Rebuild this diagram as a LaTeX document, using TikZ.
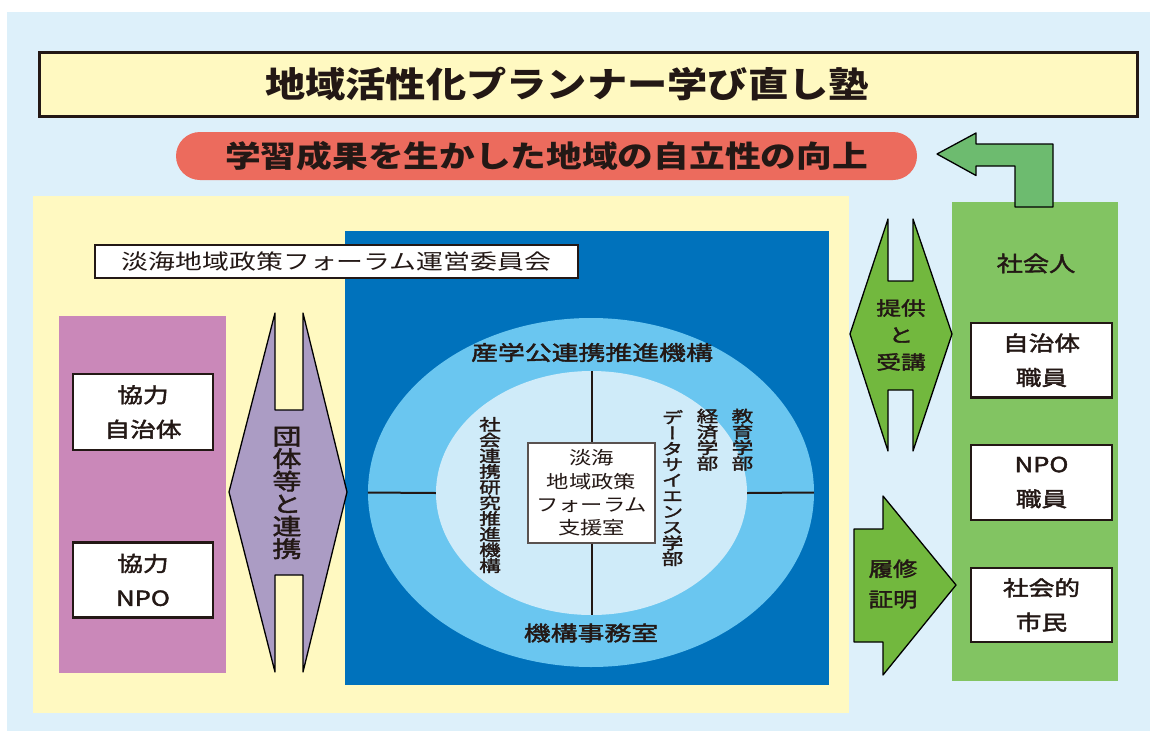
\documentclass[tikz,border=0pt]{standalone}
\usepackage{fontspec}
\newfontfamily\jp{Noto Sans CJK JP}
\usetikzlibrary{shapes.geometric}
\usepackage{tkz-euclide}
\definecolor{BgClr}{HTML}{DDF0FA}
\definecolor{CreamClr}{HTML}{FFF9C1}
\definecolor{PillClr}{HTML}{EC6B5D}
\definecolor{PinkClr}{HTML}{CA88B9}
\definecolor{BlueClr}{HTML}{0072BC}
\definecolor{RingClr}{HTML}{6AC6F0}
\definecolor{CoreClr}{HTML}{CFEBF9}
\definecolor{LilacClr}{HTML}{AB9CC4}
\definecolor{LeafClr}{HTML}{6DBB6F}
\definecolor{GrassClr}{HTML}{82C462}
\definecolor{LimeClr}{HTML}{72B83E}
\definecolor{InkClr}{HTML}{231815}
\newcommand\jpfont[3]{\jp\fontsize{#1}{#2}\selectfont\addfontfeature{FakeStretch=#3}\lineskiplimit=-30pt\lineskip=0pt}
\newcommand\jpmed[3]{\jpfont{#1}{#2}{#3}\addfontfeature{FakeBold=2}}

\begin{document}
\begin{tikzpicture}[x=1pt,y=-1pt,
  headtxt/.style={text=InkClr,inner sep=0pt,font={\bfseries\jpfont{35}{40}{1.15}}},
  card/.style={draw=InkClr,line width=2.2pt,fill=white,inner sep=0pt,align=center,text=InkClr,font={\jpmed{20.7}{34.5}{1.24}}},
  ringtxt/.style={text=InkClr,inner sep=0pt,font={\jpmed{20.5}{20.5}{1.31}}},
  vsmall/.style={text=InkClr,inner sep=0pt,align=center,font={\jpmed{16}{15.7}{1.35}}},
  midtxt/.style={text=InkClr,inner sep=0pt,align=center,font={\jpmed{20}{27}{1.26}}},
  spoke/.style={draw=InkClr,line width=2pt}]
\tkzSetUpLine[line width=1.3pt,color=black]

\useasboundingbox (0,0) rectangle (1150,731);
\fill[white] (0,0) rectangle (1150,731);
\fill[BgClr] (7,12) rectangle (1150,731);

\node[draw=InkClr,line width=3pt,fill=CreamClr,minimum width=1098pt,minimum height=64pt,inner sep=0pt] (banner) at (588,84) {};
\node[headtxt] (bannertxt) at (567,84) {地域活性化プランナー学び直し塾};

\node[fill=PillClr,rounded corners=24pt,minimum width=741pt,minimum height=48pt,inner sep=0pt,text=InkClr,font={\bfseries\jpfont{30}{30}{1.19}}] (goal) at (546.5,156) {学習成果を生かした地域の自立性の向上};

\fill[CreamClr] (33,196) rectangle (849,712.7);
\fill[BlueClr] (345,231) rectangle (828.7,684.7);

\node[ellipse,fill=RingClr,minimum width=446pt,minimum height=349pt,inner sep=0pt] (ring) at (591,492.5) {};
\node[ellipse,fill=CoreClr,minimum width=311pt,minimum height=244pt,inner sep=0pt] (core) at (591.5,493) {};
\node[draw=InkClr!75,line width=1.2pt,fill=white,minimum width=127pt,minimum height=100pt,inner sep=0pt,align=center,text=InkClr,font={\jpfont{18}{23.3}{1.24}}] (office) at (591.5,493) {淡海\\地域政策\\フォーラム\\支援室};

\draw[spoke] (ring.west) -- (core.west);
\draw[spoke] (core.east) -- (ring.east);
\draw[spoke] (core.north) -- (office.north);
\draw[spoke] (office.south) -- (core.south);

\node[ringtxt] (promo) at (592,352.5) {産学公連携推進機構};
\node[ringtxt] (bureau) at (591,633) {機構事務室};

\node[vsmall] (socres) at (490,495) {社\\会\\連\\携\\研\\究\\推\\進\\機\\構};
\node[vsmall,font={\jpmed{16}{15.7}{1.35}\addfontfeature{RawFeature=+vert}}] (dsci) at (672.5,488) {デ\\ー\\タ\\サ\\イ\\エ\\ン\\ス\\学\\部};
\node[vsmall] (econ) at (707.5,439.7) {経\\済\\学\\部};
\node[vsmall] (edu) at (742.5,439.7) {教\\育\\学\\部};

\node[draw=InkClr,line width=2.5pt,fill=white,minimum width=483pt,minimum height=33pt,inner sep=0pt,text=InkClr,font={\jpfont{21}{21}{1.28}}] (council) at (336.5,261.5) {淡海地域政策フォーラム運営委員会};

\fill[PinkClr] (59,316) rectangle (226,673);
\node[card,minimum width=140pt,minimum height=76pt] (ccity) at (143,412) {協力\\自治体};
\node[card,minimum width=140pt,minimum height=75pt] (cnpo) at (143,580) {協力\\NPO};

\tkzDefPoints{275/313/K1,229/492/K2,275/672/K3,275/575/K4,303/575/K5,303/672/K6,347/492/K7,303/313/K8,303/410/K9,275/410/K10}
\tkzFillPolygon[fill=LilacClr](K1,K2,K3,K4,K5,K6,K7,K8,K9,K10)
\tkzDrawPolygon(K1,K2,K3,K4,K5,K6,K7,K8,K9,K10)
\node[text=InkClr,inner sep=0pt,align=center,font={\jpmed{22.5}{22.5}{1.29}}] (tie) at (287,493) {団\\体\\等\\と\\連\\携};

\fill[GrassClr] (952,201.5) rectangle (1118,680.7);
\node[midtxt,font={\jpmed{21.3}{21.3}{1.23}}] (worker) at (1036,263.5) {社会人};
\node[card,minimum width=141pt,minimum height=74.5pt] (wcity) at (1041.5,360.25) {自治体\\職員};
\node[card,minimum width=141pt,minimum height=75pt] (wnpo) at (1041.5,482.5) {NPO\\職員};
\node[card,minimum width=141pt,minimum height=74pt] (wcit) at (1041.5,605) {社会的\\市民};

\tkzDefPoints{937/154/R1,976/133/R2,976/144/R3,1053/144/R4,1053/207/R5,1015/207/R6,1015/166/R7,976/166/R8,976/175.5/R9}
\tkzFillPolygon[fill=LeafClr](R1,R2,R3,R4,R5,R6,R7,R8,R9)
\tkzDrawPolygon(R1,R2,R3,R4,R5,R6,R7,R8,R9)

\tkzDefPoints{888/219/G1,850/334/G2,888/451/G3,888/390/G4,913/390/G5,913/451/G6,952/334/G7,913/219/G8,913/281/G9,888/281/G10}
\tkzFillPolygon[fill=LimeClr](G1,G2,G3,G4,G5,G6,G7,G8,G9,G10)
\tkzDrawPolygon(G1,G2,G3,G4,G5,G6,G7,G8,G9,G10)
\node[midtxt,font={\jpmed{19}{27}{1.3}}] (offer) at (901,335) {提供\\と\\受講};

\tkzDefPoints{854/529/C1,883/529/C2,883/496/C3,956/585/C4,883/675/C5,883/642/C6,854/642/C7}
\tkzFillPolygon[fill=LimeClr](C1,C2,C3,C4,C5,C6,C7)
\tkzDrawPolygon(C1,C2,C3,C4,C5,C6,C7)
\node[midtxt,font={\jpmed{20}{30.5}{1.22}}] (cert) at (893,584) {履修\\証明};

\end{tikzpicture}
\end{document}
